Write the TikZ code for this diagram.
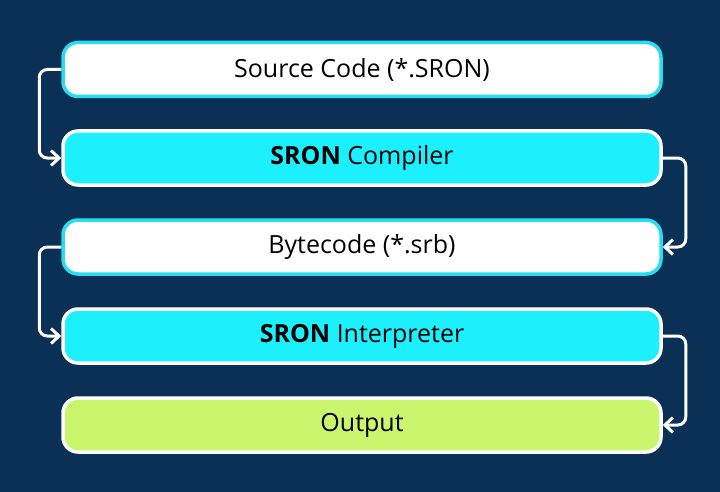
\documentclass[tikz,border=0pt]{standalone}
\usepackage{fontspec}
\setmainfont{Open Sans}
\usetikzlibrary{arrows.meta}
\definecolor{navy}{HTML}{0B3055}
\definecolor{cyanfill}{HTML}{1CF0FF}
\definecolor{cyanedge}{HTML}{28DDF2}
\definecolor{limefill}{HTML}{C9F66C}
\tikzset{
  box/.style={rectangle, rounded corners=15pt, minimum width=598pt, minimum height=54pt,
    line width=3.5pt, font=\fontsize{25}{29}\selectfont, text=black, inner sep=0pt},
  lightbox/.style={box, fill=white, draw=cyanedge},
  cyanbox/.style={box, fill=cyanfill, draw=white},
  limebox/.style={box, fill=limefill, draw=white},
  conn/.style={draw=white, line width=3pt, rounded corners=8pt,
    -{Straight Barb[length=8pt,width=15pt,line width=3pt]}},
}
\begin{document}
\begin{tikzpicture}[x=1pt,y=-1pt]
\fill[navy] (0,0) rectangle (720,492);
\useasboundingbox (0,0) rectangle (720,492);
\node[lightbox] (src) at (362,69.5) {Source Code (*.SRON)};
\node[cyanbox] (comp) at (362,158) {\textbf{SRON} Compiler};
\node[lightbox] (byte) at (362,247) {Bytecode (*.srb)};
\node[cyanbox] (interp) at (362,336) {\textbf{SRON} Interpreter};
\node[limebox] (out) at (362,425) {Output};
\draw[conn] (src.west) -- ++(-22,0) |- (comp.west);
\draw[conn] (comp.east) -- ++(23,0) |- (byte.east);
\draw[conn] (byte.west) -- ++(-22,0) |- (interp.west);
\draw[conn] (interp.east) -- ++(23,0) |- (out.east);
\end{tikzpicture}
\end{document}
